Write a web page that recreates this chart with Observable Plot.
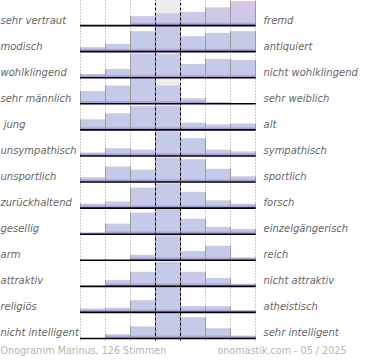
<!DOCTYPE html>
<html><head><meta charset="utf-8">
<script src="https://cdn.jsdelivr.net/npm/d3@7"></script>
<script src="https://cdn.jsdelivr.net/npm/@observablehq/plot@0.6"></script>
<style>body{margin:0;background:#fff} svg{display:block}</style>
</head><body><div id="chart"></div>
<script>
const leftLabels = ["sehr vertraut","modisch","wohlklingend","sehr männlich"," jung","unsympathisch","unsportlich","zurückhaltend","gesellig","arm","attraktiv","religiös","nicht intelligent"];
const rightLabels = ["fremd","antiquiert","nicht wohlklingend","sehr weiblich","alt","sympathisch","sportlich","forsch","einzelgängerisch","reich","nicht attraktiv","atheistisch","sehr intelligent"];
const values = [
  [0,0,36,47,53,71,96],
  [16,29,80,100,60,73,80],
  [13,33,95,92,53,73,69],
  [49,71,100,71,20,4,0],
  [40,64,93,93,27,20,24],
  [11,29,23,96,69,23,16],
  [17,60,47,95,89,51,21],
  [16,25,80,96,63,29,16],
  [5,40,84,100,60,27,19],
  [0,0,20,97,35,56,9],
  [0,23,56,95,56,31,8],
  [13,17,47,95,24,23,7],
  [0,15,47,96,83,39,9]
];
const binEdges = [0,1,2,3,4,5,6,7];
const centerBin = [3,4];
const footerLeft = "Onogramm Marinus, 126 Stimmen";
const footerRight = "onomastik.com - 05 / 2025";

const nRows = leftLabels.length;
const k = 0.0096; // value units -> row units
const rows = leftLabels.map((l,i)=>({left:l, right:rightLabels[i], base:nRows-1-i}));
const bars = rows.flatMap((r,i)=>values[i].map((v,j)=>({base:r.base, bin:j, v, top:r.base+v*k, band:r.base+Math.min(v,12)*k}))).filter(d=>d.v>0);
const edges = bars.flatMap(d=>[{x:d.bin,y1:d.base,y2:d.top},{x:d.bin+1,y1:d.base,y2:d.top}]);
const dotted = binEdges.filter(e=>!centerBin.includes(e));

const plot = Plot.plot({
  width:370, height:360, margin:0, marginBottom:21,
  x:{domain:[0,7], range:[80,255], axis:null},
  y:{domain:[0,13], range:[338,-1], axis:null},
  style:{fontFamily:"'DejaVu Sans', sans-serif", fontSize:"10px", background:"#fff"},
  marks:[
    Plot.rect([{x1:3,x2:4,y1:0,y2:13}], {x1:"x1",x2:"x2",y1:"y1",y2:"y2",fill:"#ededed"}),
    Plot.ruleX(dotted, {x:d=>d, y1:-0.1, y2:13, stroke:"#999", strokeDasharray:"1,2", strokeWidth:1}),
    Plot.rect(bars, {x1:"bin", x2:d=>d.bin+1, y1:"base", y2:"top", fill:"url(#barGrad)"}),
    Plot.rect(bars, {x1:"bin", x2:d=>d.bin+1, y1:"base", y2:"band", fill:"url(#bandGrad)"}),
    Plot.ruleX(edges, {x:"x", y1:"y1", y2:"y2", stroke:"#9a9a9a", strokeWidth:1}),
    Plot.ruleY(rows, {y:"base", x1:0, x2:7.03, stroke:"#000", strokeWidth:1.6}),
    Plot.ruleX(centerBin, {x:d=>d, y1:-0.1, y2:13, stroke:"#000", strokeDasharray:"3,2", strokeWidth:1}),
    Plot.text(rows, {y:d=>d.base+0.2, text:"left", frameAnchor:"left", textAnchor:"start", fontStyle:"italic", fill:"#666"}),
    Plot.text(rows, {y:d=>d.base+0.2, x:7, text:"right", dx:8, textAnchor:"start", fontStyle:"italic", fill:"#666"}),
    Plot.text([footerLeft], {text:d=>d, frameAnchor:"bottom-left", textAnchor:"start", dy:14, fontSize:9.6, fill:"#b4b4b4"}),
    Plot.text([footerRight], {text:d=>d, frameAnchor:"bottom-right", textAnchor:"end", dx:-24, dy:14, fontSize:9.6, fill:"#b4b4b4"})
  ]
});
plot.insertAdjacentHTML("afterbegin", `<defs>
<linearGradient id="barGrad" gradientUnits="userSpaceOnUse" x1="0" y1="0" x2="0" y2="22">
<stop offset="0" stop-color="#dec4e4"/><stop offset="1" stop-color="#c5cae9"/></linearGradient>
<linearGradient id="bandGrad" x1="0" y1="0" x2="0" y2="1">
<stop offset="0" stop-color="#c3c6e8"/><stop offset="1" stop-color="#9c8ec6"/></linearGradient>
</defs>`);
document.getElementById("chart").appendChild(plot);
</script></body></html>
